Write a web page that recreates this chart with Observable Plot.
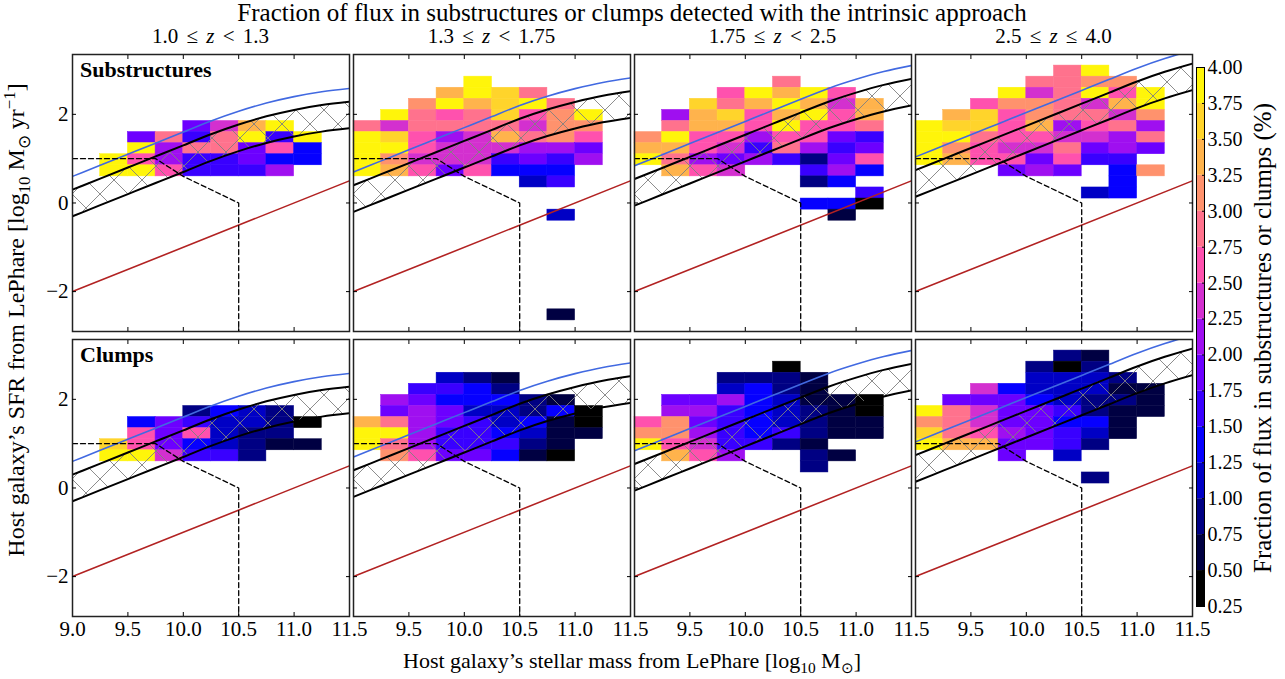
<!DOCTYPE html>
<html>
<head>
<meta charset="utf-8">
<script src="https://cdn.jsdelivr.net/npm/d3@7"></script>
<script src="https://cdn.jsdelivr.net/npm/@observablehq/plot@0.6"></script>
<style>
  html, body { margin: 0; padding: 0; background: #fff; }
  body { font-family: "Liberation Serif", "Times New Roman", serif; color: #000; }
  #root { position: relative; width: 1285px; height: 679px; overflow: hidden; background: #fff; }
  .abs { position: absolute; }
  .txt { position: absolute; white-space: nowrap; line-height: 1; }
</style>
</head>
<body>
<div id="root">
  <svg width="0" height="0" style="position:absolute">
    <defs>
      <pattern id="xhatch" patternUnits="userSpaceOnUse" width="28" height="28">
        <path d="M0,0L28,28M28,0L0,28" stroke="#808080" stroke-width="0.9" fill="none"/>
      </pattern>
    </defs>
  </svg>
</div>
<script>
// ---------------- DATA ----------------
const _ = null;
// lower edges of the stellar-mass bins (log10 Msun); bin width 0.25
const massBins = [9.0, 9.25, 9.5, 9.75, 10.0, 10.25, 10.5, 10.75, 11.0, 11.25];
const massBinWidth = 0.25;
const sfrBinHeight = 0.25;

// Each row: [lower edge of SFR bin, fraction (%) per mass bin]
const subsZ1 = [
  [1.6,  [_, _, _, _, 1.9, 2.4, 3.4, 3.9, _, _]],
  [1.35, [_, _, 1.9, 2.9, 1.6, 2.9, 3.9, 1.6, 3.9, _]],
  [1.1,  [_, _, 3.9, 2.1, 2.9, 2.9, 1.9, 2.6, 1.4, _]],
  [0.85, [_, 3.9, 2.6, 2.1, 1.6, 1.6, 1.9, 1.4, 1.4, _]],
  [0.6,  [_, 3.9, 3.9, 2.6, 1.6, 1.6, 1.6, 2.1, _, _]]
];
const subsZ2 = [
  [2.6,  [_, _, _, _, 3.9, _, _, _, _, _]],
  [2.35, [_, _, _, 3.4, 3.9, 3.6, 2.9, _, _, _]],
  [2.1,  [_, _, 3.1, 3.9, 3.4, 3.6, 3.9, 2.9, _, _]],
  [1.85, [_, 3.9, 2.9, 2.6, 2.9, 3.6, 2.6, 3.1, 3.9, _]],
  [1.6,  [2.9, 2.4, 2.9, 2.9, 2.9, 2.9, 2.4, 3.1, 3.1, _]],
  [1.35, [3.9, 3.6, 2.6, 2.1, 2.4, 3.4, 2.9, 3.1, 2.6, _]],
  [1.1,  [3.9, 3.9, 2.6, 2.4, 2.4, 2.4, 2.1, 2.1, 1.9, _]],
  [0.85, [3.9, 3.1, 2.4, 2.4, 2.4, 1.6, 1.9, 1.6, 2.1, _]],
  [0.6,  [3.9, 3.4, 2.6, 1.9, 2.6, 1.4, 1.4, 1.4, _, _]],
  [0.35, [_, _, _, _, _, _, 1.1, 1.6, _, _]],
  [-0.4, [_, _, _, _, _, _, _, 1.1, _, _]],
  [-2.65,[_, _, _, _, _, _, _, 0.6, _, _]]
];
const subsZ3 = [
  [2.6,  [_, _, _, _, _, 2.9, _, _, _, _]],
  [2.35, [_, _, _, 2.6, 3.9, 3.4, 3.9, 2.6, _, _]],
  [2.1,  [_, _, 3.6, 2.9, 3.4, 3.9, 3.4, 2.4, 3.4, _]],
  [1.85, [_, 2.1, 3.4, 3.6, 2.6, 3.4, 3.9, 2.6, 3.4, _]],
  [1.6,  [_, 2.9, 3.4, 3.4, 2.6, 3.9, 2.6, 2.6, 2.9, _]],
  [1.35, [3.1, 3.9, 2.6, 2.6, 2.1, 2.6, 2.6, 1.9, 1.6, _]],
  [1.1,  [3.4, 3.4, 2.6, 2.4, 1.6, 2.9, 2.1, 1.6, 1.9, _]],
  [0.85, [3.9, 2.9, 2.1, 1.9, 2.1, 1.6, 0.9, 1.9, 2.6, _]],
  [0.6,  [_, 3.4, 2.6, 2.4, _, _, 1.6, 2.1, 1.4, _]],
  [0.35, [_, _, _, _, _, _, 0.9, 1.4, _, _]],
  [0.1,  [_, _, _, _, _, _, _, _, 1.6, _]],
  [-0.15,[_, _, _, _, _, _, 1.4, 1.4, 0.4, _]],
  [-0.4, [_, _, _, _, _, _, _, 0.6, _, _]]
];
const subsZ4 = [
  [2.85, [_, _, _, _, _, 2.9, 3.9, _, _, _]],
  [2.6,  [_, _, _, _, 2.9, 2.9, 3.1, 3.1, _, _]],
  [2.35, [_, _, _, 3.9, 2.4, 2.9, 3.9, 2.6, 3.9, _]],
  [2.1,  [_, _, 2.6, 3.1, 3.1, 2.9, 2.4, 3.4, 3.9, _]],
  [1.85, [_, 3.4, 3.6, 2.6, 3.1, 2.9, 2.9, 2.4, 3.1, _]],
  [1.6,  [3.9, 3.6, 3.6, 2.6, 3.4, 2.1, 2.6, 2.9, 2.1, _]],
  [1.35, [3.9, 3.9, 2.9, 2.6, 2.6, 2.4, 2.4, 2.1, 2.9, _]],
  [1.1,  [3.9, 3.1, 2.6, 2.4, 2.4, 2.9, 1.9, 2.1, 1.9, _]],
  [0.85, [3.9, 3.4, 2.6, 2.6, 1.9, 2.6, 1.6, 1.6, _, _]],
  [0.6,  [_, _, _, 1.9, 2.1, 1.9, _, 1.4, 3.1, _]],
  [0.35, [_, _, _, _, _, _, _, 1.4, _, _]],
  [0.1,  [_, _, _, _, _, _, 1.1, 1.4, _, _]]
];
const clumpsZ1 = [
  [1.6,  [_, _, _, _, 0.9, 1.4, 1.1, 0.9, _, _]],
  [1.35, [_, _, 1.4, 1.9, 1.6, 1.1, 1.1, 0.9, 0.4, _]],
  [1.1,  [_, _, 2.6, 1.9, 2.6, 1.1, 0.9, 0.9, _, _]],
  [0.85, [_, 3.6, 2.6, 1.9, 1.4, 1.1, 0.9, 0.6, 0.6, _]],
  [0.6,  [_, 3.9, 3.9, 2.4, 1.6, 1.6, 0.9, _, _, _]]
];
const clumpsZ2 = [
  [2.35, [_, _, _, 1.1, 0.9, 0.6, _, _, _, _]],
  [2.1,  [_, _, 1.6, 1.6, 1.4, 0.9, _, _, _, _]],
  [1.85, [_, 2.1, 1.9, 1.4, 1.4, 1.4, 0.9, 0.6, _, _]],
  [1.6,  [_, 1.9, 2.1, 1.9, 1.1, 1.1, 0.9, 1.4, 0.4, _]],
  [1.35, [3.4, 2.9, 2.1, 1.9, 1.6, 1.1, 1.4, 0.6, 0.4, _]],
  [1.1,  [3.9, 3.9, 2.1, 1.6, 1.6, 1.4, 1.1, 0.6, 0.6, _]],
  [0.85, [3.9, 2.9, 2.1, 1.6, 1.6, 1.6, 0.9, 0.6, _, _]],
  [0.6,  [_, 3.1, 2.6, 1.9, 1.9, 1.4, 0.6, 0.4, _, _]]
];
const clumpsZ3 = [
  [2.6,  [_, _, _, _, _, 0.4, _, _, _, _]],
  [2.35, [_, _, _, 0.9, 0.9, 0.9, 0.6, _, _, _]],
  [2.1,  [_, _, _, 1.1, 1.4, 0.9, 0.6, _, _, _]],
  [1.85, [_, 1.9, 1.9, 2.1, 1.4, 1.1, 0.6, 0.6, 0.4, _]],
  [1.6,  [_, 2.1, 2.1, 1.6, 1.4, 1.1, 0.9, 0.6, 0.4, _]],
  [1.35, [2.6, 3.1, 1.9, 1.6, 1.4, 1.1, 0.9, 0.6, 0.6, _]],
  [1.1,  [3.1, 3.1, 2.1, 1.6, 1.4, 1.6, 0.9, 0.6, 0.6, _]],
  [0.85, [3.9, 2.6, 2.4, 1.6, 1.6, 0.9, 0.6, _, _, _]],
  [0.6,  [_, 3.4, 2.6, 2.1, _, _, 0.9, 0.6, _, _]],
  [0.35, [_, _, _, _, _, _, 0.9, _, _, _]]
];
const clumpsZ4 = [
  [2.85, [_, _, _, _, _, 0.9, 0.6, _, _, _]],
  [2.6,  [_, _, _, _, 0.9, 0.4, 0.9, _, _, _]],
  [2.35, [_, _, _, _, 1.1, 1.1, 1.1, 0.9, _, _]],
  [2.1,  [_, _, 2.4, 1.4, 1.1, 1.1, 1.1, 0.6, 0.6, _]],
  [1.85, [_, 1.9, 1.9, 1.9, 1.4, 1.1, 0.9, 0.9, 0.6, _]],
  [1.6,  [3.9, 2.9, 2.4, 1.9, 1.9, 1.6, 0.9, 0.6, 0.6, _]],
  [1.35, [3.1, 2.9, 2.4, 1.9, 1.9, 1.4, 1.4, 0.6, _, _]],
  [1.1,  [3.6, 2.9, 2.6, 2.1, 1.9, 1.6, 1.1, 0.6, _, _]],
  [0.85, [3.9, 3.4, 3.4, 1.9, 1.9, 1.6, 0.9, _, _, _]],
  [0.6,  [_, _, _, 1.9, _, 1.1, _, _, _, _]],
  [0.1,  [_, _, _, _, _, _, 0.9, _, _, _]]
];

// main-sequence curves (log SFR) at each mass, read per redshift bin
const massGrid = [9.0, 9.25, 9.5, 9.75, 10.0, 10.25, 10.5, 10.75, 11.0, 11.25, 11.5];
const msZ1 = [0.00, 0.25, 0.50, 0.75, 1.00, 1.25, 1.47, 1.655, 1.80, 1.91, 1.985];
const msZ2 = [0.10, 0.35, 0.60, 0.85, 1.10, 1.35, 1.60, 1.81, 1.98, 2.12, 2.22];
const msZ3 = [0.24, 0.49, 0.74, 0.99, 1.24, 1.49, 1.74, 1.985, 2.19, 2.365, 2.50];
const msZ4 = [0.44, 0.69, 0.94, 1.19, 1.44, 1.69, 1.94, 2.19, 2.44, 2.66, 2.845];
const bandHalfWidth = 0.3;   // dex, hatched band
const starburstOffset = 0.6; // dex, blue line

// red line (passive limit) and dashed selection line
const redMass = [9.0, 11.5];
const redSfr = [-2.0, 0.5];
const dashMass = [9.0, 9.75, 10.0, 10.5, 10.5];
const dashSfr = [1.0, 1.0, 0.6, 0.0, -2.9];

// axes
const xTicks = [9.5, 10.0, 10.5, 11.0];
const yTicks = [-2, 0, 2];
const xLabelsFirst = [9.0, 9.5, 10.0, 10.5, 11.0, 11.5];
const xLabelsRest = [9.5, 10.0, 10.5, 11.0, 11.5];
const zLow = ["1.0", "1.3", "1.75", "2.5"];
const zHigh = ["1.3", "1.75", "2.5", "4.0"];
const zHighOp = ["<", "<", "<", "≤"];
const rowNames = ["Substructures", "Clumps"];
const cbBounds = [0.25, 0.5, 0.75, 1.0, 1.25, 1.5, 1.75, 2.0, 2.25, 2.5, 2.75, 3.0, 3.25, 3.5, 3.75, 4.0];

const grids = [[subsZ1, subsZ2, subsZ3, subsZ4], [clumpsZ1, clumpsZ2, clumpsZ3, clumpsZ4]];
const msCurves = [msZ1, msZ2, msZ3, msZ4];

// ---------------- COLOURS (gnuplot2 colormap, truncated) ----------------
function gnuplot2(t) {
  const cl = v => Math.max(0, Math.min(1, v));
  const r = cl(t / 0.32 - 0.78125);
  const g = cl(2 * t - 0.84);
  let b;
  if (t < 0.25) b = 4 * t; else if (t < 0.42) b = 1; else if (t < 0.92) b = -2 * t + 1.84; else b = t / 0.08 - 11.5;
  b = cl(b);
  return d3.rgb(r * 255, g * 255, b * 255).formatHex();
}
const nBins = cbBounds.length - 1;
const binColors = d3.range(nBins).map(i => gnuplot2(0.9 * i / (nBins - 1)));
const colorScale = {type: "threshold", domain: cbBounds.slice(1, -1), range: binColors};

// ---------------- LAYOUT ----------------
const FONT = "Liberation Serif, Times New Roman, serif";
const panelW = 277, panelH = 277;
const colLeft = [72, 353, 634, 915];
const rowTop = [54, 339];
const root = document.getElementById("root");

function addText(html, left, top, styles) {
  const d = document.createElement("div");
  d.className = "txt";
  d.innerHTML = html;
  d.style.left = left + "px";
  d.style.top = top + "px";
  Object.assign(d.style, styles || {});
  root.appendChild(d);
  return d;
}
const fmtY = d => (d < 0 ? "\u2212" + Math.abs(d) : String(d));

function makePanel(grid, ms, col, row) {
  const cells = [];
  for (const [sLo, vals] of grid) {
    vals.forEach((v, i) => { if (v != null) cells.push({m: massBins[i], s: sLo, v}); });
  }
  const curve = massGrid.map((m, i) => ({m, c: ms[i]}));
  const red = redMass.map((m, i) => ({m, s: redSfr[i]}));
  const dash = dashMass.map((m, i) => ({m, s: dashSfr[i]}));
  const marks = [
    Plot.rect(cells, {x1: "m", x2: d => d.m + massBinWidth, y1: "s", y2: d => d.s + sfrBinHeight,
      fill: "v", stroke: "v", strokeWidth: 0.5}),
    Plot.areaY(curve, {x: "m", y1: d => d.c - bandHalfWidth, y2: d => d.c + bandHalfWidth,
      fill: "url(#xhatch)", curve: "natural", clip: true}),
    Plot.line(curve, {x: "m", y: d => d.c + starburstOffset, stroke: "#4169e1", strokeWidth: 1.6, curve: "natural", clip: true}),
    Plot.line(curve, {x: "m", y: d => d.c + bandHalfWidth, stroke: "#000", strokeWidth: 2, curve: "natural", clip: true}),
    Plot.line(curve, {x: "m", y: d => d.c - bandHalfWidth, stroke: "#000", strokeWidth: 2, curve: "natural", clip: true}),
    Plot.line(red, {x: "m", y: "s", stroke: "#b22222", strokeWidth: 1.6, clip: true}),
    Plot.line(dash, {x: "m", y: "s", stroke: "#000", strokeWidth: 1.3, strokeDasharray: "5,3", clip: true}),
    Plot.frame({stroke: "#222", strokeWidth: 1.5}),
    Plot.axisX(xTicks, {anchor: "bottom", tickSize: -4, tickFormat: () => "", label: null}),
    Plot.axisX(xTicks, {anchor: "top", tickSize: -4, tickFormat: () => "", label: null}),
    Plot.axisY(yTicks, {anchor: "left", tickSize: -4, tickFormat: () => "", label: null}),
    Plot.axisY(yTicks, {anchor: "right", tickSize: -4, tickFormat: () => "", label: null})
  ];
  if (row === 1) {
    marks.push(Plot.axisX(col === 0 ? xLabelsFirst : xLabelsRest, {anchor: "bottom", tickSize: 0, tickPadding: 5,
      fontSize: 21, tickFormat: d => d.toFixed(1), label: null}));
  }
  if (col === 0) {
    marks.push(Plot.axisY(yTicks, {anchor: "left", tickSize: 0, tickPadding: 4, fontSize: 21, tickFormat: fmtY, label: null}));
  }
  const svg = Plot.plot({
    width: panelW, height: panelH, margin: 0,
    x: {domain: [9.0, 11.5], label: null},
    y: {domain: [-2.9, 3.35], label: null},
    color: colorScale,
    style: {background: "transparent", overflow: "visible", fontFamily: FONT, fontSize: "21px", color: "#000"},
    marks
  });
  const holder = document.createElement("div");
  holder.className = "abs";
  holder.style.left = colLeft[col] + "px";
  holder.style.top = rowTop[row] + "px";
  holder.appendChild(svg);
  root.appendChild(holder);
}

for (let r = 0; r < 2; r++) for (let c = 0; c < 4; c++) makePanel(grids[r][c], msCurves[c], c, r);

// ---------------- COLOURBAR ----------------
const cbCells = cbBounds.slice(0, -1).map((lo, i) => ({lo, hi: cbBounds[i + 1]}));
const cb = Plot.plot({
  width: 8, height: 539, margin: 0,
  y: {domain: [0.25, 4.0], label: null},
  color: colorScale,
  style: {background: "transparent", overflow: "visible", fontFamily: FONT, fontSize: "20px", color: "#000"},
  marks: [
    Plot.rect(cbCells, {y1: "lo", y2: "hi", fill: d => (d.lo + d.hi) / 2}),
    Plot.frame({stroke: "#000", strokeWidth: 1}),
    Plot.axisY(cbBounds, {anchor: "right", tickSize: -3, tickFormat: () => "", label: null}),
    Plot.axisY(cbBounds, {anchor: "right", tickSize: 0, tickPadding: 3, fontSize: 20, tickFormat: d => d.toFixed(2), label: null})
  ]
});
const cbHolder = document.createElement("div");
cbHolder.className = "abs";
cbHolder.style.left = "1196px";
cbHolder.style.top = "67px";
cbHolder.appendChild(cb);
root.appendChild(cbHolder);

// ---------------- TEXTS ----------------
addText("Fraction of flux in substructures or clumps detected with the intrinsic approach", 632, 0,
  {fontSize: "25px", transform: "translateX(-50%)"});
for (let c = 0; c < 4; c++) {
  addText(`${zLow[c]} ≤ <i>z</i> ${zHighOp[c]} ${zHigh[c]}`, colLeft[c] + panelW / 2, 26,
    {fontSize: "21px", transform: "translateX(-50%)", wordSpacing: "3px"});
}
addText(rowNames[0], colLeft[0] + 8, rowTop[0] + 5, {fontSize: "22px", fontWeight: "bold"});
addText(rowNames[1], colLeft[0] + 8, rowTop[1] + 5, {fontSize: "22px", fontWeight: "bold"});
addText("Host galaxy’s stellar mass from LePhare [log<sub style='font-size:0.7em'>10</sub> M<sub style='font-size:0.7em'>⊙</sub>]",
  632, 650, {fontSize: "22px", transform: "translateX(-50%)"});
addText("Host galaxy’s SFR from LePhare [log<sub style='font-size:0.7em'>10</sub> M<sub style='font-size:0.7em'>⊙</sub> yr<sup style='font-size:0.7em'>−1</sup>]",
  18, 320, {fontSize: "24px", transform: "translate(-50%,-50%) rotate(-90deg)"});
addText("Fraction of flux in substructures or clumps (%)", 1262, 338,
  {fontSize: "25px", transform: "translate(-50%,-50%) rotate(-90deg)"});
</script>
</body>
</html>
